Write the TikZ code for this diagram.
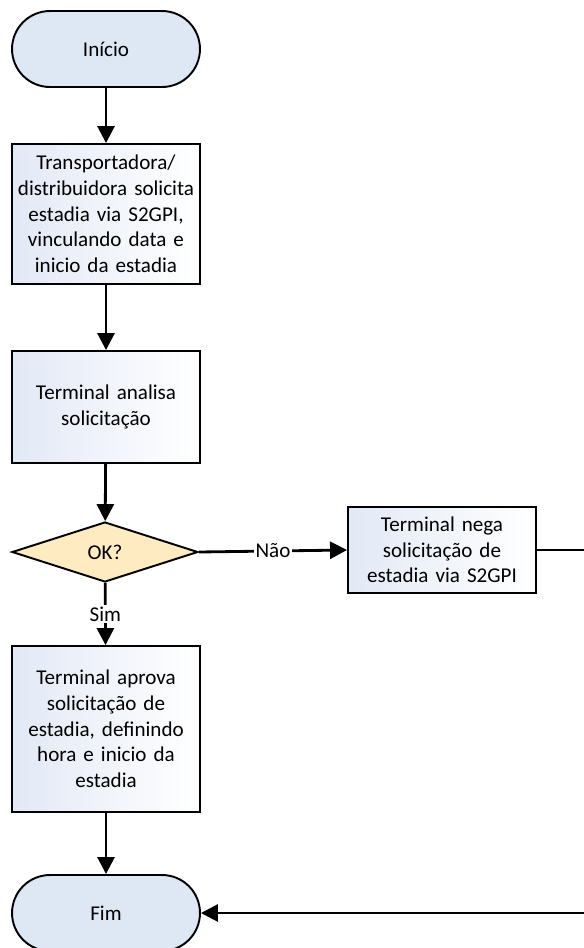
\documentclass[tikz,border=0pt]{standalone}
\usepackage{fontspec}
\setmainfont{Carlito}
\usetikzlibrary{shapes.geometric,arrows.meta}
\definecolor{termblue}{RGB}{222,232,245}
\definecolor{boxblue}{RGB}{226,233,246}
\definecolor{decfill}{RGB}{255,235,194}

\begin{document}
\begin{tikzpicture}[x=0.02cm, y=-0.02cm,
		font=\fontsize{12}{14.6}\selectfont,
		term_style/.style={rectangle,rounded corners=0.76cm,draw=black,line width=1.1pt,fill=termblue,minimum width=3.76cm,minimum height=1.52cm},
		proc_style/.style={rectangle,draw=black,line width=1.1pt,left color=boxblue,right color=white,text width=3.7cm,inner sep=0.03cm,align=center},
		dec_style/.style={diamond,draw=black,line width=1.1pt,fill=decfill,minimum width=3.72cm,minimum height=1.2cm,inner sep=0pt},
		edge_style/.style={draw=black,line width=1.6pt,-{Triangle[length=0.34cm,width=0.34cm]}},
		line_style/.style={draw=black,line width=1.6pt}]
		
		\useasboundingbox (0,0) rectangle (583,948);
		
		\node[term_style] (start) at (106,49)  {Início};
		\node[proc_style,minimum height=2.8cm] (req) at (106,214)  {Transportadora/\\ distribuidora solicita\\ estadia via S2GPI,\\ vinculando data e\\ inicio da estadia};
		\node[proc_style,minimum height=2.24cm] (ana) at (106,407)  {Terminal analisa\\ solicitação};
		\node[dec_style] (ok) at (105,552)  {OK?};
		\node[proc_style,minimum height=1.72cm] (nega) at (442,550)  {Terminal nega\\ solicitação de\\ estadia via S2GPI};
		\node[proc_style,minimum height=3.32cm] (aprova) at (106,729)  {Terminal aprova\\ solicitação de\\ estadia, definindo\\ hora e inicio da\\ estadia};
		\node[term_style] (fim) at (106,913)  {Fim};
		
		\coordinate (out1) at (600,550);
		\coordinate (out2) at (600,913);
		
		\draw[edge_style]  (start) -- (req);
		\draw[edge_style]  (req) -- (ana);
		\draw[edge_style]  (ana) -- (ok);
		\draw[edge_style]  (ok.east) -- node[fill=white,inner sep=1pt]{Não} (nega.west);
		\draw[edge_style]  (ok) -- node[fill=white,inner sep=1pt]{Sim} (aprova);
		\draw[edge_style]  (aprova) -- (fim);
		\draw[line_style]  (nega.east) -- (out1) -- (out2);
		\draw[edge_style]  (out2) -- (fim.east);
		
\end{tikzpicture}
\end{document}
